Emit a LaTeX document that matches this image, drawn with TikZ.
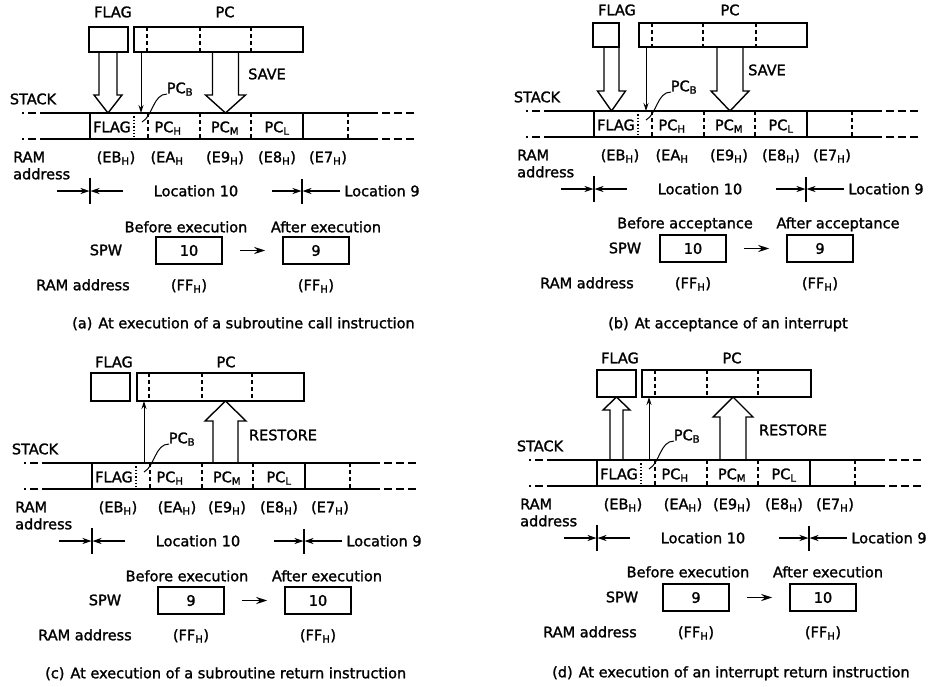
\documentclass[tikz,border=0pt]{standalone}
\usepackage{fontspec}
\setmainfont{DejaVu Sans}[UprightFeatures={FakeBold=1.5}]
\usetikzlibrary{arrows.meta}
\newcommand\sbs[1]{\textsubscript{#1}}
\tikzset{
 lbl/.style={inner sep=0pt, text height=10.5pt, text depth=0pt, font=\fontsize{14.5pt}{17pt}\selectfont},
 boxln/.style={line width=1.5pt},
 stk/.style={line width=1.9pt},
 stkdash/.style={line width=1.9pt, dash pattern=on 8pt off 4pt},
 divd/.style={line width=1.1pt, dash pattern=on 4pt off 3pt},
 divdot/.style={line width=1.1pt, dash pattern=on 1.3pt off 2pt},
 hol/.style={line width=1.4pt, line join=miter},
 thinarr/.style={line width=1pt, -{Stealth[length=8pt,width=5pt]}},
 locarr/.style={line width=1.3pt, -{Stealth[length=9pt,width=6pt]}},
 spwarr/.style={line width=1.8pt, -{Stealth[length=11pt,width=7pt]}},
 spwbox/.style={draw, line width=1.5pt, minimum width=66pt, minimum height=27pt, inner sep=0pt, font=\fontsize{14.5pt}{17pt}\selectfont},
}
% hollow arrow: cx, shaft half, head half, y start, y head base, y tip
\newcommand\hollow[6]{\draw[hol] ({#1-#2},#4) -- ({#1-#2},#5) -- ({#1-#3},#5) -- (#1,#6) -- ({#1+#3},#5) -- ({#1+#2},#5) -- ({#1+#2},#4);}
% common part: #1 prefix, #2 val1, #3 val2, #4 SPW x, #5 EA text, #6 EA x
\newcommand\stackcommon[6]{%
 \draw[stk] (48,113) -- (378,113);
 \draw[stk] (48,139) -- (378,139);
 \draw[stkdash] (48,113) -- (22,113);
 \draw[stkdash] (48,139) -- (22,139);
 \draw[stkdash] (382,113) -- (415,113);
 \draw[stkdash] (382,139) -- (415,139);
 \draw[boxln] (90,113) -- (90,139);
 \draw[boxln] (303,113) -- (303,139);
 \draw[divdot] (134,113) -- (134,139);
 \foreach \xx in {148,200,251,348} {\draw[divd] (\xx,113) -- (\xx,139);}
 \node[lbl] (#1-cflag) at (112,127) {FLAG};
 \node[lbl] (#1-cpch) at (168,127) {PC\sbs{H}};
 \node[lbl] (#1-cpcm) at (225,127) {PC\sbs{M}};
 \node[lbl] (#1-cpcl) at (277,127) {PC\sbs{L}};
 \node[lbl] (#1-stack) at (33,99) {STACK};
 \node[lbl] (#1-pcb) at (180,88) {PC\sbs{B}};
 \draw[line width=1pt] (142,122) .. controls (153,116) and (153,94) .. (167,94);
 \node[lbl,anchor=west] (#1-ram) at (13,157) {RAM};
 \node[lbl,anchor=west] (#1-addr) at (13,174) {address};
 \node[lbl] (#1-eb) at (116,157) {(EB\sbs{H})};
 \node[lbl] (#1-ea) at (#6,157) {#5};
 \node[lbl] (#1-e9) at (225,157) {(E9\sbs{H})};
 \node[lbl] (#1-e8) at (277,157) {(E8\sbs{H})};
 \node[lbl] (#1-e7) at (328,157) {(E7\sbs{H})};
 \coordinate (#1-t1a) at (90,178); \coordinate (#1-t1b) at (90,204);
 \coordinate (#1-t2a) at (302,179); \coordinate (#1-t2b) at (302,204);
 \draw[line width=1.1pt] (#1-t1a) -- (#1-t1b);
 \draw[line width=1.1pt] (#1-t2a) -- (#1-t2b);
 \coordinate (#1-a1) at (57,191); \coordinate (#1-a1e) at (89.5,191);
 \coordinate (#1-a2) at (123,191); \coordinate (#1-a2e) at (90.5,191);
 \coordinate (#1-a3) at (272,191); \coordinate (#1-a3e) at (301.5,191);
 \coordinate (#1-a4) at (340,191); \coordinate (#1-a4e) at (302.5,191);
 \draw[locarr] (#1-a1) -- (#1-a1e);
 \draw[locarr] (#1-a2) -- (#1-a2e);
 \draw[locarr] (#1-a3) -- (#1-a3e);
 \draw[locarr] (#1-a4) -- (#1-a4e);
 \node[lbl] (#1-loc10) at (196,191) {Location 10};
 \node[lbl] (#1-loc9) at (382,191) {Location 9};
 \node[lbl] (#1-spw) at (#4,250) {SPW};
 \node[spwbox] (#1-b1) at (189,250.5) {#2};
 \node[spwbox] (#1-b2) at (316,250.5) {#3};
 \draw[spwarr, shorten <=17pt, shorten >=17pt] (#1-b1) -- (#1-b2);
 \node[lbl] (#1-ramad) at (83,285) {RAM address};
 \node[lbl] (#1-ff1) at (189,285) {(FF\sbs{H})};
 \node[lbl] (#1-ff2) at (316,285) {(FF\sbs{H})};
}
\begin{document}
\begin{tikzpicture}[x=1pt,y=-1pt]
\fill[white] (0,0) rectangle (928,686);
\useasboundingbox (0,0) rectangle (928,686);

% ---------- (a) ----------
\begin{scope}
 \stackcommon{a}{10}{9}{106}{(EA\sbs{H}}{167}
 \draw[boxln] (89,27) rectangle (128,52);
 \draw[boxln] (134,27) rectangle (303,52);
 \foreach \xx in {147,200,251} {\draw[divd] (\xx,27) -- (\xx,52);}
 \node[lbl] (a-flag) at (113,12) {FLAG};
 \node[lbl] (a-pc) at (225,12) {PC};
 \hollow{108}{9}{14}{52}{95}{113}
 \coordinate (a-th1) at (141,52); \coordinate (a-th2) at (141,113);
 \draw[thinarr] (a-th1) -- (a-th2);
 \hollow{225.5}{13}{20}{52}{95}{113}
 \node[lbl] (a-save) at (267,74) {SAVE};
 \node[lbl] (a-bef) at (186,227) {Before execution};
 \node[lbl] (a-aft) at (326,227) {After execution};
 \node[lbl,anchor=west] (a-cap) at (72,323) {(a)\hspace{6pt}At execution of a subroutine call instruction};
\end{scope}

% ---------- (b) ----------
\begin{scope}[shift={(504,-2)}]
 \stackcommon{b}{10}{9}{121}{(EA\sbs{H}}{168}
 \draw[boxln] (89,25) rectangle (115,49);
 \draw[boxln] (135,25) rectangle (303,49);
 \foreach \xx in {148,199,252} {\draw[divd] (\xx,25) -- (\xx,49);}
 \node[lbl] (b-flag) at (113,12) {FLAG};
 \node[lbl] (b-pc) at (226,12) {PC};
 \hollow{107.5}{7.5}{14}{49}{93}{113}
 \coordinate (b-th1) at (142,49); \coordinate (b-th2) at (142,113);
 \draw[thinarr] (b-th1) -- (b-th2);
 \hollow{226}{13}{19}{49}{93}{113}
 \node[lbl] (b-save) at (263,72) {SAVE};
 \node[lbl] (b-bef) at (181,225) {Before acceptance};
 \node[lbl] (b-aft) at (334,225) {After acceptance};
 \node[lbl,anchor=west] (b-cap) at (104,325) {(b)\hspace{6pt}At acceptance of an interrupt};
\end{scope}

% ---------- (c) ----------
\begin{scope}[shift={(2,350)}]
 \stackcommon{c}{9}{10}{103}{(EA\sbs{H})}{175}
 \draw[boxln] (89,23) rectangle (128,51);
 \draw[boxln] (135,23) rectangle (302,51);
 \foreach \xx in {147,200,250} {\draw[divd] (\xx,23) -- (\xx,51);}
 \node[lbl] (c-flag) at (112,12) {FLAG};
 \node[lbl] (c-pc) at (224,12) {PC};
 \coordinate (c-th1) at (142,113); \coordinate (c-th2) at (142,51);
 \draw[thinarr] (c-th1) -- (c-th2);
 \hollow{223.5}{12.5}{20.5}{113}{71}{51}
 \node[lbl] (c-rest) at (281,85) {RESTORE};
 \node[lbl] (c-bef) at (185,226) {Before execution};
 \node[lbl] (c-aft) at (325,226) {After execution};
 \node[lbl,anchor=west] (c-cap) at (43,323) {(c)\hspace{6pt}At execution of a subroutine return instruction};
\end{scope}

% ---------- (d) ----------
\begin{scope}[shift={(507,347)}]
 \stackcommon{d}{9}{10}{115}{(EA\sbs{H})}{176}
 \draw[boxln] (90,23) rectangle (129,50);
 \draw[boxln] (135,23) rectangle (304,50);
 \foreach \xx in {148,200,251} {\draw[divd] (\xx,23) -- (\xx,50);}
 \node[lbl] (d-flag) at (113,11) {FLAG};
 \node[lbl] (d-pc) at (225,11) {PC};
 \hollow{109.5}{6.5}{13.5}{113}{63}{50}
 \coordinate (d-th1) at (142,113); \coordinate (d-th2) at (142,50);
 \draw[thinarr] (d-th1) -- (d-th2);
 \hollow{226}{13}{20}{113}{70}{50}
 \node[lbl] (d-rest) at (286,83) {RESTORE};
 \node[lbl] (d-bef) at (181,225) {Before execution};
 \node[lbl] (d-aft) at (321,225) {After execution};
 \node[lbl,anchor=west] (d-cap) at (45,325) {(d)\hspace{6pt}At execution of an interrupt return instruction};
\end{scope}
\end{tikzpicture}
\end{document}
